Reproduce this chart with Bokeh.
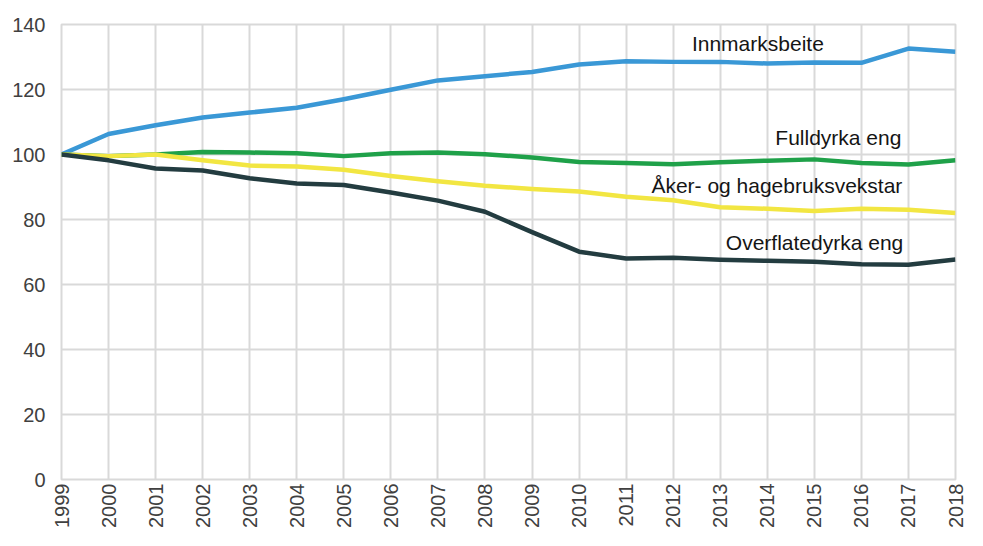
import math
from bokeh.plotting import figure
from bokeh.models import ColumnDataSource, FixedTicker, Range1d
from bokeh.core.properties import value
from bokeh.embed import file_html
from bokeh.resources import INLINE

years = list(range(1999, 2019))

innmarksbeite = [100, 106.3, 109.0, 111.4, 112.9, 114.4, 117.0, 119.9, 122.8, 124.1,
                 125.4, 127.7, 128.7, 128.5, 128.5, 128.0, 128.3, 128.2, 132.6, 131.6]
fulldyrka = [100, 99.5, 100.0, 100.8, 100.6, 100.4, 99.5, 100.4, 100.6, 100.1,
             99.1, 97.7, 97.4, 97.0, 97.6, 98.1, 98.5, 97.4, 96.9, 98.2]
aker = [100, 99.5, 100.0, 98.2, 96.6, 96.3, 95.3, 93.4, 91.8, 90.4,
        89.4, 88.6, 87.0, 85.9, 83.8, 83.3, 82.6, 83.3, 83.0, 82.0]
overflate = [100, 98.2, 95.7, 95.1, 92.7, 91.1, 90.6, 88.3, 85.8, 82.4,
             76.1, 70.1, 68.0, 68.2, 67.6, 67.3, 67.0, 66.2, 66.1, 67.7]

series_names = ["Innmarksbeite", "Fulldyrka eng", "Åker- og hagebruksvekstar", "Overflatedyrka eng"]
series_values = [innmarksbeite, fulldyrka, aker, overflate]
series_colors = ["#3A98D6", "#1FA149", "#F2E642", "#233C40"]

# label anchor points (data coords)
label_x = [2013.8, 2016.85, 2016.87, 2016.89]
label_y = [134.2, 105.1, 90.6, 73.0]
label_align = ["center", "right", "right", "right"]

y_ticks = [0, 20, 40, 60, 80, 100, 120, 140]

p = figure(width=967, height=530, output_backend="svg", toolbar_location=None,
           x_range=Range1d(1999, 2018), y_range=Range1d(0, 140),
           min_border_left=61, min_border_right=12, min_border_top=24, min_border_bottom=50)

grid_color = "#D9D9D9"
p.outline_line_color = grid_color
p.outline_line_width = 2
p.background_fill_color = "white"
p.border_fill_color = "white"

p.xaxis.ticker = FixedTicker(ticks=years)
p.yaxis.ticker = FixedTicker(ticks=y_ticks)
p.xgrid.ticker = FixedTicker(ticks=years)
p.ygrid.ticker = FixedTicker(ticks=y_ticks)
for g in (p.xgrid, p.ygrid):
    g.grid_line_color = grid_color
    g.grid_line_width = 2

for ax in (p.xaxis, p.yaxis):
    ax.axis_line_color = None
    ax.major_tick_line_color = None
    ax.minor_tick_line_color = None
    ax.major_tick_out = 0
    ax.major_tick_in = 0
    ax.major_label_text_font = "Liberation Sans"
    ax.major_label_text_font_size = "20px"
    ax.major_label_text_color = "#404040"

p.yaxis.major_label_standoff = 16
p.xaxis.major_label_standoff = 4
p.xaxis.major_label_orientation = math.pi / 2

for vals, col in zip(series_values, series_colors):
    src = ColumnDataSource(dict(x=years, y=vals))
    p.line("x", "y", source=src, line_color=col, line_width=4.5, line_join="round")

for name, lx, ly, al in zip(series_names, label_x, label_y, label_align):
    p.text(x=[lx], y=[ly], text=[name], text_align=al, text_baseline="middle",
           text_font=value("Liberation Sans"), text_font_size="21px", text_color="#151515")

open("out.html", "w").write(file_html(p, INLINE))
